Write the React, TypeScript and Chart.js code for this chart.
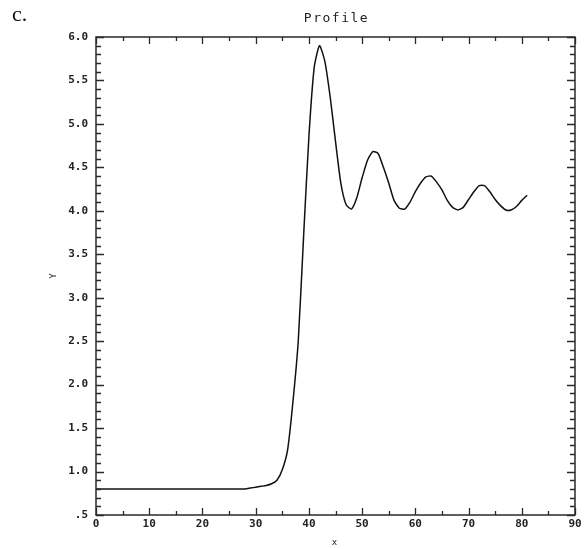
import React, { useEffect, useRef } from "react";
import { Chart, registerables } from "chart.js";

Chart.register(...registerables);

const xValues = [
  0, 1, 2, 3, 4, 5, 6, 7, 8, 9, 10, 11, 12, 13, 14, 15, 16, 17, 18, 19, 20,
  21, 22, 23, 24, 25, 26, 27, 28, 29, 30, 31, 32, 33, 34, 35, 36, 37, 38, 39,
  40, 41, 42, 43, 44, 45, 46, 47, 48, 49, 50, 51, 52, 53, 54, 55, 56, 57, 58,
  59, 60, 61, 62, 63, 64, 65, 66, 67, 68, 69, 70, 71, 72, 73, 74, 75, 76, 77,
  78, 79, 80, 81,
];
const yValues = [
  0.8, 0.8, 0.8, 0.8, 0.8, 0.8, 0.8, 0.8, 0.8, 0.8, 0.8, 0.8, 0.8, 0.8, 0.8,
  0.8, 0.8, 0.8, 0.8, 0.8, 0.8, 0.8, 0.8, 0.8, 0.8, 0.8, 0.8, 0.8, 0.8, 0.81,
  0.82, 0.83, 0.84, 0.86, 0.9, 1.02, 1.25, 1.8, 2.5, 3.7, 4.85, 5.65, 5.9,
  5.72, 5.31, 4.8, 4.32, 4.07, 4.02, 4.15, 4.38, 4.58, 4.68, 4.66, 4.5, 4.32,
  4.12, 4.03, 4.02, 4.1, 4.22, 4.32, 4.39, 4.4, 4.33, 4.24, 4.12, 4.04, 4.01,
  4.04, 4.13, 4.22, 4.29, 4.29, 4.22, 4.13, 4.06, 4.01, 4.01, 4.05, 4.12, 4.18,
];

const titleText = "Profile";
const panelLabel = "c.";
const xAxisLabel = "x";
const yAxisLabel = "Y";
const xMin = 0;
const xMax = 90;
const xMajorStep = 10;
const xMinorStep = 5;
const yMin = 0.5;
const yMax = 6.0;
const yMajorStep = 0.5;
const yMinorStep = 0.1;

const W = 588;
const H = 549;
const AREA_LEFT = 96;
const AREA_TOP = 37;
const AREA_RIGHT = 575;
const AREA_BOTTOM = 515;

const mono = "'DejaVu Sans Mono', 'Liberation Mono', monospace";
const axisColor = "#2a2a2a";

const framePlugin = {
  id: "frame",
  afterDraw(chart: any) {
    const ctx = chart.ctx as CanvasRenderingContext2D;
    const xs = chart.scales.x;
    const ys = chart.scales.y;
    const { left, right, top, bottom } = chart.chartArea;
    ctx.save();
    ctx.strokeStyle = axisColor;
    ctx.lineWidth = 1.5;
    ctx.strokeRect(left, top, right - left, bottom - top);

    ctx.lineWidth = 1.3;
    ctx.beginPath();
    const nx = Math.round((xMax - xMin) / xMinorStep);
    for (let i = 0; i <= nx; i++) {
      const v = xMin + i * xMinorStep;
      const major = Math.abs(v / xMajorStep - Math.round(v / xMajorStep)) < 1e-6;
      const len = major ? 7 : 4;
      const px = Math.round(xs.getPixelForValue(v)) + 0.5;
      ctx.moveTo(px, bottom);
      ctx.lineTo(px, bottom - len);
      ctx.moveTo(px, top);
      ctx.lineTo(px, top + len);
    }
    const ny = Math.round((yMax - yMin) / yMinorStep);
    for (let i = 0; i <= ny; i++) {
      const v = yMin + i * yMinorStep;
      const r = v / yMajorStep;
      const major = Math.abs(r - Math.round(r)) < 1e-6;
      const len = major ? 8 : 5;
      const py = Math.round(ys.getPixelForValue(v)) + 0.5;
      ctx.moveTo(left, py);
      ctx.lineTo(left + len, py);
      ctx.moveTo(right, py);
      ctx.lineTo(right - len, py);
    }
    ctx.stroke();

    ctx.fillStyle = "#222";
    ctx.textAlign = "center";
    ctx.textBaseline = "middle";
    ctx.font = `13px ${mono}`;
    (ctx as any).letterSpacing = "1.5px";
    ctx.fillText(titleText, (left + right) / 2 + 1, 19);
    (ctx as any).letterSpacing = "0px";

    ctx.font = `9px ${mono}`;
    ctx.fillText(xAxisLabel, (left + right) / 2 - 1, 543);
    ctx.save();
    ctx.translate(54, 276);
    ctx.rotate(-Math.PI / 2);
    ctx.fillText(yAxisLabel, 0, 0);
    ctx.restore();

    ctx.fillStyle = "#111";
    ctx.textAlign = "left";
    ctx.font = `22px 'Liberation Serif', 'DejaVu Serif', serif`;
    ctx.fillText(panelLabel, 12, 15);
    ctx.restore();
  },
};

export default function App() {
  const canvasRef = useRef<HTMLCanvasElement | null>(null);

  useEffect(() => {
    const canvas = canvasRef.current;
    if (!canvas) return;
    const points = xValues.map((x, i) => ({ x, y: yValues[i] }));
    const chart = new Chart(canvas, {
      type: "line",
      data: {
        datasets: [
          {
            data: points,
            borderColor: "#111",
            borderWidth: 1.5,
            pointRadius: 0,
            tension: 0.2,
            fill: false,
          },
        ],
      },
      options: {
        animation: false,
        responsive: false,
        maintainAspectRatio: false,
        devicePixelRatio: 1,
        layout: {
          padding: { left: 0, top: AREA_TOP, right: W - AREA_RIGHT, bottom: 0 },
        },
        plugins: {
          legend: { display: false },
          title: { display: false },
          tooltip: { enabled: false },
        },
        scales: {
          x: {
            type: "linear",
            min: xMin,
            max: xMax,
            grid: { display: false, drawTicks: false },
            border: { display: false },
            afterFit(scale: any) {
              scale.height = H - AREA_BOTTOM;
            },
            ticks: {
              stepSize: xMajorStep,
              padding: 3,
              maxRotation: 0,
              autoSkip: false,
              color: "#222",
              font: { family: mono, size: 11, weight: "bold" },
              callback: (v: any) => String(v),
            },
          },
          y: {
            type: "linear",
            min: yMin,
            max: yMax,
            grid: { display: false, drawTicks: false },
            border: { display: false },
            afterFit(scale: any) {
              scale.width = AREA_LEFT;
            },
            ticks: {
              stepSize: yMajorStep,
              padding: 8,
              autoSkip: false,
              color: "#222",
              font: { family: mono, size: 11, weight: "bold" },
              callback: (v: any) => {
                const n = Number(v);
                const s = n.toFixed(1);
                return s.startsWith("0.") ? s.slice(1) : s;
              },
            },
          },
        },
      },
      plugins: [framePlugin],
    });
    return () => chart.destroy();
  }, []);

  return (
    <div style={{ position: "absolute", left: 0, top: 0, width: W, height: H, background: "#fff" }}>
      <canvas ref={canvasRef} width={W} height={H} style={{ display: "block" }} />
    </div>
  );
}
